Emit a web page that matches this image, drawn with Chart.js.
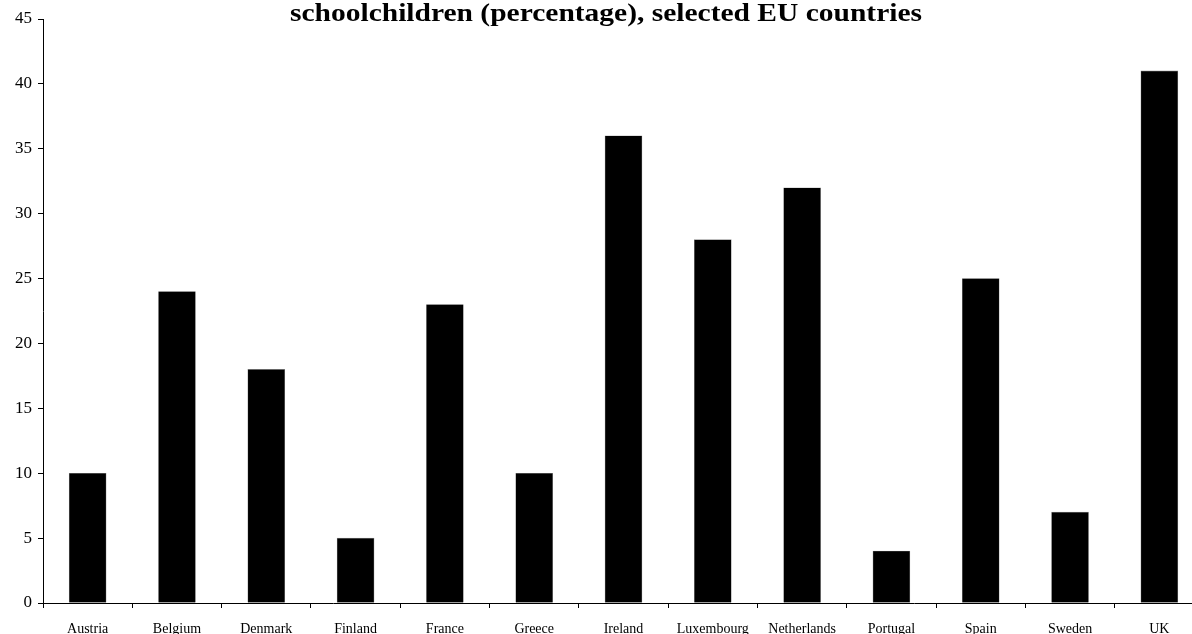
<!DOCTYPE html>
<html>
<head>
<meta charset="utf-8">
<script src="https://cdn.jsdelivr.net/npm/chart.js@4/dist/chart.umd.min.js"></script>
<style>
  html, body { margin: 0; padding: 0; background: #fff; overflow: hidden; }
  #wrap { width: 1204px; height: 634px; }
</style>
</head>
<body>
<div id="wrap"><canvas id="c" width="1204" height="634"></canvas></div>
<script>
const countries = ['Austria', 'Belgium', 'Denmark', 'Finland', 'France', 'Greece', 'Ireland',
  'Luxembourg', 'Netherlands', 'Portugal', 'Spain', 'Sweden', 'UK'];
const percentages = [10, 24, 18, 5, 23, 10, 36, 28, 32, 4, 25, 7, 41];
const yTicks = [0, 5, 10, 15, 20, 25, 30, 35, 40, 45];
const titleText = 'schoolchildren (percentage), selected EU countries';

const serif = '"Liberation Serif", "Times New Roman", serif';

// Title drawn over the top of the plot, slightly widened to its set span
const titlePlugin = {
  id: 'topTitle',
  afterDraw(chart) {
    const ctx = chart.ctx;
    ctx.save();
    ctx.font = 'bold 25px ' + serif;
    ctx.fillStyle = '#000';
    ctx.textAlign = 'center';
    ctx.textBaseline = 'alphabetic';
    const w = ctx.measureText(titleText).width;
    const sx = 632 / w;
    ctx.translate(606, 21);
    ctx.scale(sx, 1);
    ctx.fillText(titleText, 0, 0);
    ctx.restore();
  }
};

new Chart(document.getElementById('c'), {
  type: 'bar',
  data: {
    labels: countries,
    datasets: [{
      data: percentages,
      backgroundColor: '#000',
      borderColor: '#888',
      borderWidth: 0.6,
      barThickness: 37
    }]
  },
  options: {
    responsive: false,
    animation: false,
    layout: { padding: { top: 19, right: 0, left: 0, bottom: 0 } },
    plugins: { legend: { display: false }, tooltip: { enabled: false }, title: { display: false } },
    scales: {
      x: {
        offset: true,
        grid: { display: true, drawOnChartArea: false, offset: true, tickLength: 5, color: '#000' },
        border: { color: '#000', width: 1 },
        ticks: { font: { family: serif, size: 14 }, color: '#000', padding: 13, maxRotation: 0, autoSkip: false },
        afterFit(scale) { scale.height = 31; }
      },
      y: {
        min: 0,
        max: 45,
        afterBuildTicks(scale) { scale.ticks = yTicks.map(v => ({ value: v })); },
        grid: { display: true, drawOnChartArea: false, tickLength: 5, color: '#000' },
        border: { color: '#000', width: 1 },
        ticks: { font: { family: serif, size: 17 }, color: '#000', padding: 6 },
        afterFit(scale) { scale.width = 43; }
      }
    }
  },
  plugins: [titlePlugin]
});
</script>
</body>
</html>
